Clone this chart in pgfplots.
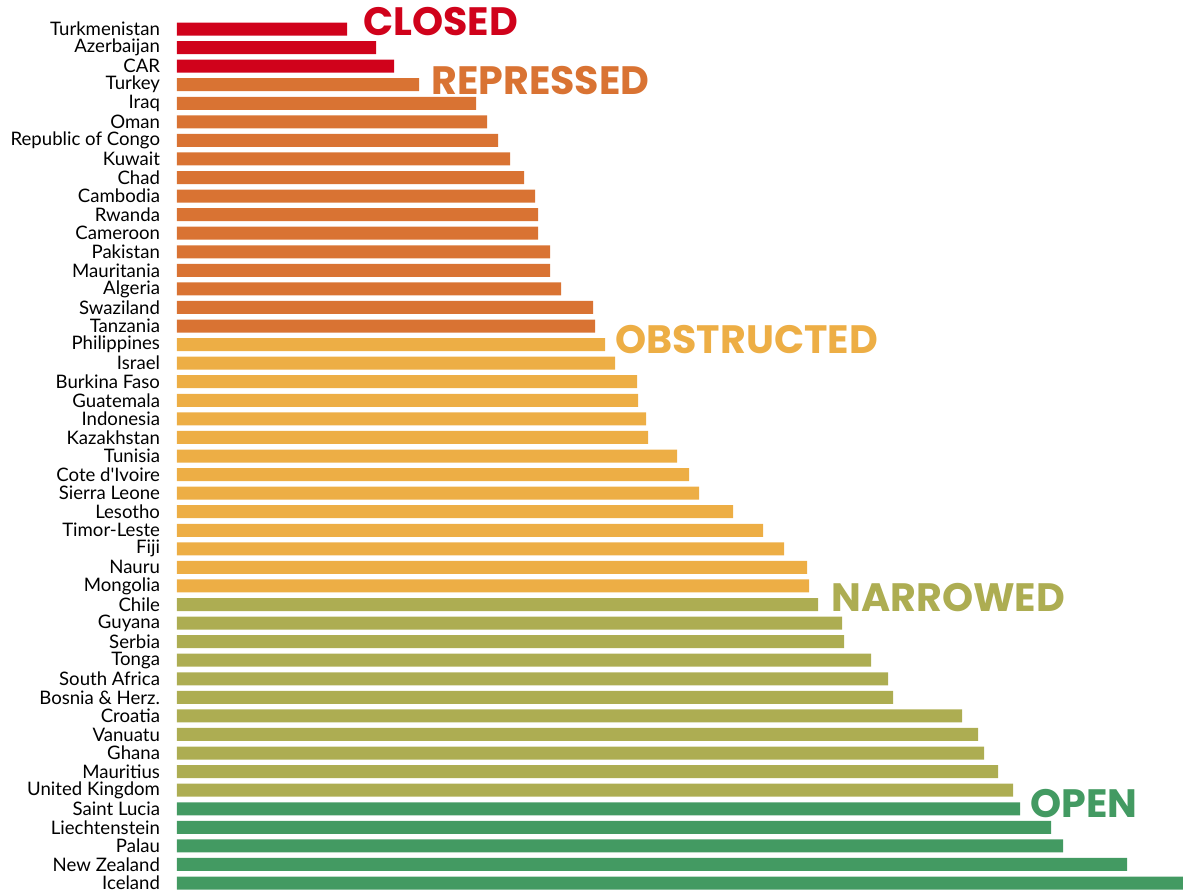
\documentclass[border=0pt]{standalone}
\usepackage{pgfplots}
\pgfplotsset{compat=1.18}
\usepackage{fontspec}
\setmainfont{Lato}[Ligatures=TeXOff]
\newfontfamily\pop{Poppins}
\definecolor{cclosed}{RGB}{208,2,27}
\definecolor{crep}{RGB}{217,115,51}
\definecolor{cobs}{RGB}{237,174,69}
\definecolor{cnar}{RGB}{173,173,82}
\definecolor{copen}{RGB}{67,154,98}
\begin{document}
\begin{tikzpicture}
\begin{axis}[
  scale only axis, width=503pt, height=446pt,
  xmin=0, xmax=1006, ymin=-0.5616, ymax=47.485, y dir=reverse,
  clip=false, axis line style={draw=none}, xtick=\empty,
  ytick={1,...,47}, major tick length=0pt, ytick style={draw=none},
  yticklabels={Turkmenistan,Azerbaijan,CAR,Turkey,Iraq,Oman,Republic of Congo,Kuwait,Chad,Cambodia,Rwanda,Cameroon,Pakistan,Mauritania,Algeria,Swaziland,Tanzania,Philippines,Israel,Burkina Faso,Guatemala,Indonesia,Kazakhstan,Tunisia,Cote d'Ivoire,Sierra Leone,Lesotho,Timor-Leste,Fiji,Nauru,Mongolia,Chile,Guyana,Serbia,Tonga,South Africa,Bosnia \& Herz.,Croatia,Vanuatu,Ghana,Mauritius,United Kingdom,Saint Lucia,Liechtenstein,Palau,New Zealand,Iceland},
  yticklabel style={font=\fontsize{9.3}{10}\selectfont, inner sep=0pt, anchor=east, xshift=-8.3pt},
  xbar, bar width=6.5pt, bar shift=0pt,
  every axis plot/.append style={draw=none},
]
\addplot[fill=cclosed] coordinates {(170,1) (199,2) (217,3)};
\addplot[fill=crep] coordinates {(242,4) (299,5) (310,6) (321,7) (333,8) (347,9) (358,10) (361,11) (361,12) (373,13) (373,14) (384,15) (416,16) (418,17)};
\addplot[fill=cobs] coordinates {(428,18) (438,19) (460,20) (461,21) (469,22) (471,23) (500,24) (512,25) (522,26) (556,27) (586,28) (607,29) (630,30) (632,31)};
\addplot[fill=cnar] coordinates {(641,32) (665,33) (667,34) (694,35) (711,36) (716,37) (785,38) (801,39) (807,40) (821,41) (836,42)};
\addplot[fill=copen] coordinates {(843,43) (874,44) (886,45) (950,46) (1006,47)};
\node[anchor=west, inner sep=0pt, text=cclosed, font=\pop\bfseries\fontsize{19.8}{21}\selectfont] at (axis cs:186,0.62) {CLOSED};
\node[anchor=west, inner sep=0pt, text=crep, font=\pop\bfseries\fontsize{19.8}{21}\selectfont] at (axis cs:254,3.75) {REPRESSED};
\node[anchor=west, inner sep=0pt, text=cobs, font=\pop\bfseries\fontsize{19.8}{21}\selectfont] at (axis cs:438,17.75) {OBSTRUCTED};
\node[anchor=west, inner sep=0pt, text=cnar, font=\pop\bfseries\fontsize{19.8}{21}\selectfont] at (axis cs:654,31.64) {NARROWED};
\node[anchor=west, inner sep=0pt, text=copen, font=\pop\bfseries\fontsize{19.8}{21}\selectfont] at (axis cs:853,42.73) {OPEN};
\end{axis}
\pgfresetboundingbox
\path (current axis.south west) ++(-88.5pt,0) rectangle (current axis.north east);
\end{tikzpicture}
\end{document}
